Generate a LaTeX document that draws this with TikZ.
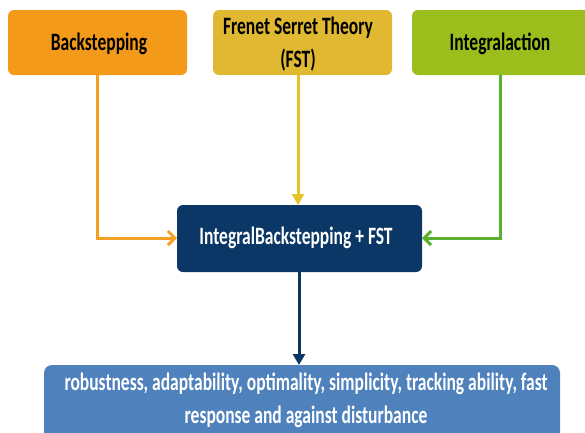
\documentclass[tikz,border=0pt]{standalone}
\usepackage{fontspec}
\setmainfont{Carlito}[FakeStretch=0.70]
\usetikzlibrary{arrows.meta}
\definecolor{cOrange}{HTML}{F39A1A}
\definecolor{cYellow}{HTML}{E1B832}
\definecolor{cGreen}{HTML}{9CBE1C}
\definecolor{cNavy}{HTML}{0B3766}
\definecolor{cBlue}{HTML}{4F81BD}
\definecolor{aOrange}{HTML}{F5A020}
\definecolor{aYellow}{HTML}{E3C52A}
\definecolor{aGreen}{HTML}{5BAF2E}
\begin{document}
\begin{tikzpicture}[x=1pt,y=-1pt,
  lbl/.style={inner sep=0pt,align=center,font=\bfseries\fontsize{25}{33}\selectfont},
  conn/.style={line width=3pt},
  barb/.style={-{Straight Barb[length=7pt,width=14pt,line width=3pt]}},
  tri/.style={-{Triangle[length=11pt,width=12pt]}}]
\useasboundingbox (0,0) rectangle (585,432);
\clip (0,0) rectangle (585,432);
\fill[cOrange,rounded corners=6pt] (8,10) rectangle (187,75);
\node[lbl] (bs) at (99,44) {Backstepping};
\fill[cYellow,rounded corners=6pt] (213,10) rectangle (392,75);
\node[lbl] (fst) at (298,44) {Frenet Serret Theory\\(FST)};
\fill[cGreen,rounded corners=6pt] (412,10) rectangle (600,75);
\node[lbl] (ia) at (500,44) {Integralaction};
\fill[cNavy,rounded corners=6pt] (177,205) rectangle (422,272);
\node[lbl,text=white] (ib) at (296,238) {IntegralBackstepping + FST};
\fill[cBlue,rounded corners=8pt] (44,365) rectangle (560,450);
\node[lbl,text=white] (res) at (306,400) {robustness, adaptability, optimality, simplicity, tracking ability, fast\\response and against disturbance};
\coordinate (bsb) at (97,75);
\coordinate (fsb) at (298,75);
\coordinate (iab) at (500,75);
\coordinate (ibl) at (177,238);
\coordinate (ibr) at (422,238);
\coordinate (ibt) at (298,205);
\coordinate (ibb) at (299,272);
\coordinate (rest) at (299,365);
\draw[conn,aOrange,barb] (bsb) |- (ibl);
\draw[conn,aGreen,barb] (iab) |- (ibr);
\draw[conn,aYellow,tri] (fsb) -- (ibt);
\draw[conn,cNavy,tri] (ibb) -- (rest);
\end{tikzpicture}
\end{document}
